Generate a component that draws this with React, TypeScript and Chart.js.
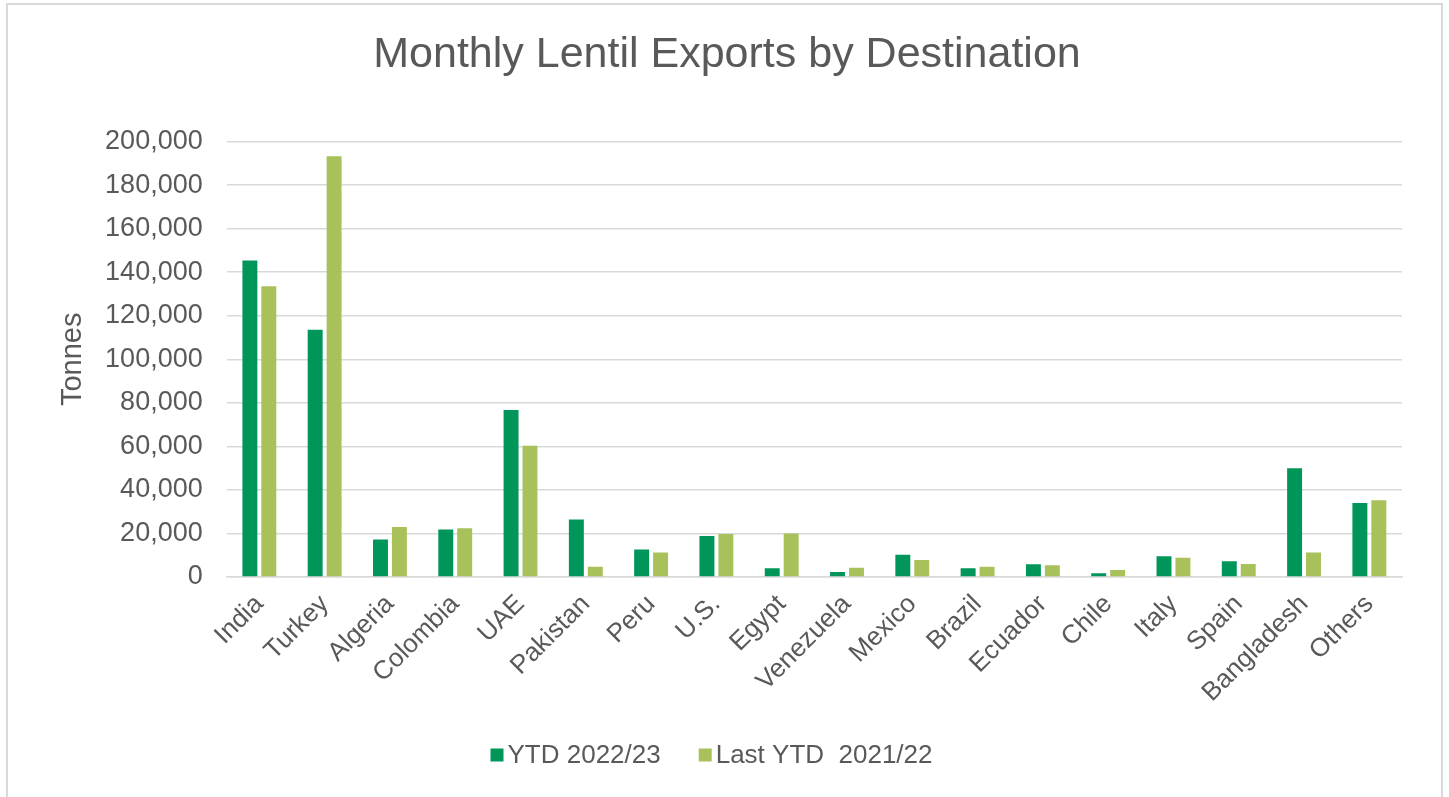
import React, { useEffect, useRef } from "react";
import { Chart, registerables } from "chart.js";

Chart.register(...registerables);

const categories = [
  "India", "Turkey", "Algeria", "Colombia", "UAE", "Pakistan", "Peru", "U.S.", "Egypt",
  "Venezuela", "Mexico", "Brazil", "Ecuador", "Chile", "Italy", "Spain", "Bangladesh", "Others",
];
const ytd2223 = [
  145400, 113600, 17200, 21800, 76700, 26400, 12600, 18800, 4000,
  2300, 10200, 4000, 5800, 1700, 9500, 7200, 50000, 34000,
];
const ytd2122 = [
  133600, 193300, 23000, 22400, 60300, 4700, 11300, 19800, 20000,
  4300, 7800, 4700, 5400, 3200, 8800, 6000, 11300, 35200,
];
const seriesNames = ["YTD 2022/23", "Last YTD  2021/22"];
const seriesColors = ["#00965A", "#A8C15B"];
const yTicks = { min: 0, max: 200000, step: 20000 };

const FONT = "'Liberation Sans', Arial, sans-serif";
const TEXT = "#595959";
const GRID = "#d9d9d9";

const bottomLegend = {
  id: "bottomLegend",
  afterDraw(chart: any) {
    const ctx = chart.ctx;
    const box = 13;
    const gapText = 4;
    const gapItem = 38;
    const cy = 755;
    const cx = 711.5;
    ctx.save();
    ctx.font = `26px ${FONT}`;
    const items = chart.data.datasets.map((d: any) => ({
      label: d.label as string,
      color: d.backgroundColor as string,
      w: ctx.measureText(d.label).width,
    }));
    const total =
      items.reduce((a: number, it: any) => a + box + gapText + it.w, 0) + gapItem * (items.length - 1);
    let x = cx - total / 2;
    ctx.textBaseline = "middle";
    ctx.textAlign = "left";
    items.forEach((it: any) => {
      ctx.fillStyle = it.color;
      ctx.fillRect(x, cy - box / 2, box, box);
      x += box + gapText;
      ctx.fillStyle = TEXT;
      ctx.fillText(it.label, x, cy + 1);
      x += it.w + gapItem;
    });
    ctx.restore();
  },
};

export default function App() {
  const ref = useRef<HTMLCanvasElement | null>(null);
  useEffect(() => {
    if (!ref.current) return;
    const chart = new Chart(ref.current, {
      type: "bar",
      data: {
        labels: categories,
        datasets: [
          {
            label: seriesNames[0],
            data: ytd2223,
            backgroundColor: seriesColors[0],
            categoryPercentage: 0.58,
            barPercentage: 0.79,
          },
          {
            label: seriesNames[1],
            data: ytd2122,
            backgroundColor: seriesColors[1],
            categoryPercentage: 0.58,
            barPercentage: 0.79,
          },
        ],
      },
      plugins: [bottomLegend],
      options: {
        animation: false,
        responsive: false,
        layout: { padding: { left: 52, right: 47, top: 0, bottom: 0 } },
        plugins: {
          title: {
            display: true,
            text: "Monthly Lentil Exports by Destination",
            color: TEXT,
            font: { family: FONT, size: 43, weight: "normal" },
            padding: { top: 29, bottom: 61 },
          },
          legend: { display: false },
          tooltip: { enabled: false },
        },
        scales: {
          x: {
            grid: { display: false, drawTicks: false },
            border: { color: GRID, width: 1.5 },
            ticks: {
              color: TEXT,
              font: { family: FONT, size: 26 },
              maxRotation: 45,
              minRotation: 45,
              padding: 12,
              autoSkip: false,
            },
            afterFit: (s: any) => {
              s.height = 220;
            },
          },
          y: {
            min: yTicks.min,
            max: yTicks.max,
            grid: { color: GRID, lineWidth: 1.5, drawTicks: false },
            border: { display: false },
            ticks: {
              stepSize: yTicks.step,
              color: TEXT,
              font: { family: FONT, size: 27 },
              padding: 24,
              callback: (v: any) => Number(v).toLocaleString("en-US"),
            },
            title: {
              display: true,
              text: "Tonnes",
              color: TEXT,
              font: { family: FONT, size: 29 },
              padding: { top: 4, bottom: 0 },
            },
            afterFit: (s: any) => {
              s.width = 174.7;
            },
          },
        },
      },
    });
    return () => chart.destroy();
  }, []);

  return (
    <div style={{ position: "fixed", inset: 0, overflow: "hidden", background: "#fff" }}>
      <div
        style={{
          position: "absolute",
          left: 6,
          top: 3,
          width: 1437,
          height: 830,
          border: "2px solid #d9d9d9",
          boxSizing: "border-box",
        }}
      />
      <canvas
        ref={ref}
        width={1449}
        height={797}
        style={{ position: "absolute", left: 0, top: 0, width: 1449, height: 797 }}
      />
    </div>
  );
}
